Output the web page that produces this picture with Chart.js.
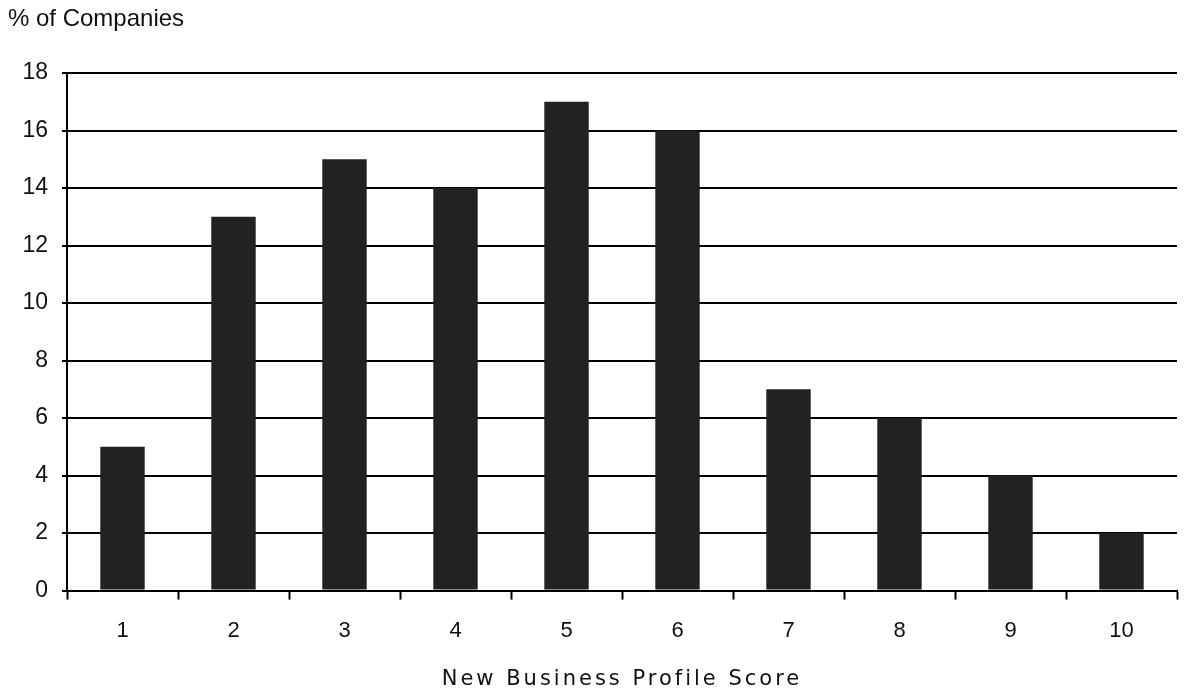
<!DOCTYPE html>
<html>
<head>
<meta charset="utf-8">
<script src="https://cdn.jsdelivr.net/npm/chart.js@4"></script>
<style>
  html, body { margin: 0; padding: 0; background: #ffffff; }
  #wrap { width: 1184px; height: 694px; }
</style>
</head>
<body>
<div id="wrap"><canvas id="c" width="1184" height="694"></canvas></div>
<script>
const categories = ['1', '2', '3', '4', '5', '6', '7', '8', '9', '10'];
const percentOfCompanies = [5, 13, 15, 14, 17, 16, 7, 6, 4, 2];
const yTicks = [0, 2, 4, 6, 8, 10, 12, 14, 16, 18];
const chartTitle = '% of Companies';
const xTitle = 'New Business Profile Score';

const FONT = '"Liberation Sans", Arial, sans-serif';
const WIDE_FONT = '"DejaVu Sans", "Liberation Sans", sans-serif';

const textPlugin = {
  id: 'textPlugin',
  afterDraw(chart) {
    const ctx = chart.ctx;
    const area = chart.chartArea;
    ctx.save();
    ctx.fillStyle = '#111';
    ctx.textBaseline = 'middle';
    // chart title, top-left
    ctx.font = '24px ' + FONT;
    ctx.textAlign = 'left';
    ctx.fillText(chartTitle, 8, 19);
    // x-axis title
    ctx.font = '21px ' + WIDE_FONT;
    ctx.textAlign = 'center';
    if ('letterSpacing' in ctx) ctx.letterSpacing = '3px';
    ctx.fillText(xTitle, (area.left + area.right) / 2, 680);
    ctx.restore();
  }
};

new Chart(document.getElementById('c'), {
  type: 'bar',
  data: {
    labels: categories,
    datasets: [{
      data: percentOfCompanies,
      backgroundColor: '#222222',
      borderWidth: 0,
      barPercentage: 0.8,
      categoryPercentage: 0.5
    }]
  },
  options: {
    responsive: false,
    animation: false,
    layout: { padding: { left: 0, right: 7, top: 73, bottom: 32 } },
    plugins: {
      legend: { display: false },
      tooltip: { enabled: false },
      title: { display: false }
    },
    scales: {
      x: {
        offset: true,
        grid: {
          offset: true,
          drawOnChartArea: false,
          drawTicks: true,
          tickLength: 9,
          tickWidth: 2,
          tickColor: '#000',
          color: '#000'
        },
        border: { display: true, color: '#000', width: 2 },
        ticks: {
          color: '#111',
          font: { family: FONT, size: 22 },
          padding: 18,
          maxRotation: 0
        },
        title: { display: false }
      },
      y: {
        min: 0,
        max: 18,
        afterBuildTicks: (scale) => { scale.ticks = yTicks.map(v => ({ value: v })); },
        afterFit: (scale) => { scale.width = 67; },
        grid: {
          color: '#000',
          lineWidth: 2,
          drawTicks: true,
          tickLength: 5,
          tickColor: '#000'
        },
        border: { display: true, color: '#000', width: 2 },
        ticks: {
          color: '#111',
          font: { family: FONT, size: 23 },
          padding: 14
        }
      }
    }
  },
  plugins: [textPlugin]
});
</script>
</body>
</html>
